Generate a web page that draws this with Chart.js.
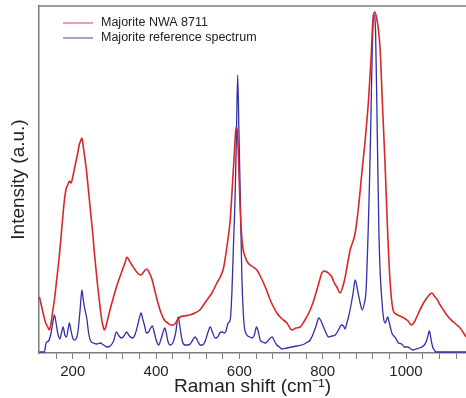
<!DOCTYPE html>
<html>
<head>
<meta charset="utf-8">
<script src="https://cdn.jsdelivr.net/npm/chart.js@4.4.1/dist/chart.umd.min.js"></script>
<style>
  html, body { margin: 0; padding: 0; background: #fff; }
  #wrap { width: 466px; height: 398px; }
</style>
</head>
<body>
<div id="wrap"><canvas id="chart"></canvas></div>
<script>
// Raman shift (cm-1) and intensity (a.u.)
const redShift = [
  120, 125, 130, 135, 140, 144, 148, 152, 156, 162, 168, 174, 180, 184, 188, 192, 196, 200, 204, 208,
  212, 216, 219, 222, 226, 232, 236, 240, 244, 248, 252, 256, 260, 264, 268, 272, 276, 280, 284, 290,
  296, 302, 308, 314, 320, 326, 330, 336, 342, 350, 358, 364, 372, 378, 384, 390, 396, 402, 408, 414,
  420, 428, 436, 442, 450, 458, 468, 481, 493, 505, 514, 522, 534, 546, 554, 562, 570, 578, 583, 588,
  592, 595, 598, 602, 607, 614, 621, 633, 642, 650, 658, 666, 674, 682, 690, 700, 714, 726, 736, 746,
  756, 770, 778, 786, 792, 798, 804, 810, 816, 822, 828, 834, 842, 848, 854, 860, 866, 878, 886, 894,
  902, 910, 916, 921, 925, 929, 933, 938, 943, 950, 956, 962, 969, 976, 985, 995, 1005, 1013, 1020, 1030,
  1042, 1050, 1056, 1062, 1068, 1074, 1082, 1090, 1098, 1106, 1114, 1122, 1130, 1138, 1144
];
const redIntensity = [
  56, 47, 38, 30, 26, 23, 30, 42, 53, 75, 98, 126, 153, 164, 168, 172, 170, 176, 184, 192,
  200, 209, 212, 215, 204, 186, 170, 153, 136, 120, 100, 83, 66, 52, 38, 28, 23, 27, 34, 44,
  53, 62, 70, 77, 84, 91, 96, 92, 88, 83, 79, 78, 82, 84, 80, 74, 64, 54, 45, 38,
  33, 30, 28, 28, 32, 36, 37, 38, 40, 43, 48, 53, 60, 70, 76, 85, 106, 133, 166, 200,
  226, 222, 193, 143, 110, 96, 90, 86, 83, 77, 70, 62, 53, 46, 40, 35, 30, 23, 25, 26,
  32, 43, 52, 63, 72, 80, 82, 81, 79, 76, 70, 66, 60, 66, 76, 90, 103, 120, 146, 180,
  213, 253, 293, 336, 341, 336, 326, 303, 253, 186, 120, 70, 43, 39, 37, 35, 32, 28, 31, 40,
  50, 55, 58, 60, 57, 54, 48, 43, 38, 34, 31, 28, 25, 20, 16
];

const blueShift = [
  120, 132, 136, 142, 148, 152, 156, 160, 164, 169, 173, 177, 181, 185, 189, 192, 196, 200, 204, 208,
  212, 217, 222, 225, 228, 231, 234, 238, 243, 250, 258, 266, 274, 282, 290, 298, 305, 311, 317, 323,
  329, 336, 344, 350, 356, 360, 364, 368, 372, 377, 382, 387, 391, 396, 401, 406, 412, 417, 421, 425,
  429, 434, 440, 447, 453, 458, 463, 469, 476, 482, 488, 494, 500, 506, 512, 518, 524, 530, 536, 542,
  548, 553, 558, 564, 568, 573, 578, 582, 586, 590, 593, 596, 599, 602, 606, 609, 612, 618, 625, 630,
  636, 641, 645, 650, 656, 662, 666, 672, 679, 684, 690, 696, 702, 714, 726, 738, 750, 760, 770, 778,
  784, 791, 796, 802, 808, 814, 822, 830, 838, 845, 850, 854, 858, 862, 868, 873, 878, 884, 890, 895,
  900, 904, 909, 912, 915, 919, 923, 927, 931, 935, 938, 942, 946, 950, 956, 960, 966, 975, 982, 990,
  996, 1004, 1012, 1017, 1024, 1032, 1038, 1044, 1048, 1052, 1056, 1060, 1064, 1068, 1072, 1144
];
const blueIntensity = [
  1, 1, 10, 12, 20, 30, 38, 30, 20, 14, 20, 26, 18, 16, 24, 30, 22, 15, 13, 14,
  20, 40, 63, 54, 46, 40, 34, 20, 12, 10, 9, 10, 8, 6, 7, 12, 21, 17, 15, 17,
  21, 17, 15, 19, 28, 35, 40, 34, 28, 20, 21, 25, 27, 20, 12, 8, 14, 21, 25, 19,
  11, 8, 10, 20, 36, 24, 12, 8, 8, 9, 13, 16, 12, 8, 8, 12, 20, 26, 20, 15,
  16, 20, 21, 20, 22, 30, 33, 60, 110, 160, 220, 278, 220, 160, 76, 43, 26, 18, 16, 15,
  18, 26, 22, 13, 11, 10, 11, 14, 16, 12, 8, 6, 4, 5, 6, 7, 8, 10, 13, 20,
  27, 35, 32, 26, 20, 16, 17, 18, 23, 28, 27, 24, 30, 36, 48, 60, 73, 62, 50, 43,
  50, 62, 120, 165, 220, 303, 338, 320, 220, 120, 80, 53, 35, 30, 36, 30, 20, 15, 10, 9,
  6, 6, 4, 3, 4, 5, 6, 8, 11, 16, 22, 14, 6, 3, 1, 1
];

const tickValues = [160, 200, 240, 280, 320, 360, 400, 440, 480, 520, 560, 600, 640, 680, 720, 760, 800, 840, 880, 920, 960, 1000, 1040, 1080, 1120];
const tickLabels = [200, 400, 600, 800, 1000];

const seriesNames = ["Majorite NWA 8711", "Majorite reference spectrum"];

const AXIS_COLOR = "#7c7c7c";
const FONT = "'Liberation Sans', Arial, sans-serif";

function toPoints(xs, ys) {
  return xs.map((x, i) => ({ x, y: ys[i] }));
}

// top edge of the frame + legend inside the plot
const framePlugin = {
  id: "frame",
  afterDraw(chart) {
    const { ctx, chartArea } = chart;
    ctx.save();
    ctx.strokeStyle = AXIS_COLOR;
    ctx.lineWidth = 1.5;
    ctx.beginPath();
    ctx.moveTo(chartArea.left, chartArea.top);
    ctx.lineTo(chartArea.right, chartArea.top);
    ctx.stroke();

    ctx.font = "12.5px " + FONT;
    ctx.textBaseline = "middle";
    chart.data.datasets.forEach((ds, i) => {
      const y = chartArea.top + 17 + i * 15;
      ctx.strokeStyle = ds.legendColor;
      ctx.lineWidth = 1.3;
      ctx.beginPath();
      ctx.moveTo(chartArea.left + 24, y);
      ctx.lineTo(chartArea.left + 54, y);
      ctx.stroke();
      ctx.fillStyle = "#222";
      ctx.fillText(ds.label, chartArea.left + 62, y);
    });
    ctx.restore();
  }
};

new Chart(document.getElementById("chart"), {
  type: "line",
  data: {
    datasets: [
      {
        label: seriesNames[0],
        data: toPoints(redShift, redIntensity),
        borderColor: "rgb(218, 38, 38)",
        legendColor: "rgb(214, 110, 110)",
        borderWidth: 1.6,
        pointRadius: 0,
        cubicInterpolationMode: "monotone"
      },
      {
        label: seriesNames[1],
        data: toPoints(blueShift, blueIntensity),
        borderColor: "rgb(48, 48, 168)",
        legendColor: "rgb(110, 110, 200)",
        borderWidth: 1.3,
        pointRadius: 0,
        cubicInterpolationMode: "monotone"
      }
    ]
  },
  options: {
    responsive: true,
    maintainAspectRatio: false,
    animation: false,
    layout: { padding: { top: 6, right: 0, left: 0, bottom: 0 } },
    plugins: {
      legend: { display: false },
      tooltip: { enabled: false }
    },
    scales: {
      x: {
        type: "linear",
        min: 119,
        max: 1144,
        afterBuildTicks: scale => {
          scale.ticks = tickValues.map(value => ({ value }));
        },
        afterFit: scale => {
          scale.height = 45;
        },
        ticks: {
          autoSkip: false,
          maxRotation: 0,
          padding: 4,
          color: "#222",
          font: { family: FONT, size: 15 },
          callback: value => (tickLabels.includes(value) ? String(value) : "")
        },
        grid: {
          display: true,
          drawOnChartArea: false,
          drawTicks: true,
          tickLength: 6,
          tickColor: AXIS_COLOR,
          tickWidth: 1
        },
        border: { display: true, color: AXIS_COLOR, width: 1.5 },
        title: {
          display: true,
          text: "Raman shift (cm⁻¹)",
          color: "#222",
          font: { family: FONT, size: 19 },
          padding: { top: 0, bottom: 0 }
        }
      },
      y: {
        min: 0,
        max: 347,
        afterFit: scale => {
          scale.width = 39;
        },
        ticks: { display: false },
        grid: { display: false },
        border: { display: true, color: AXIS_COLOR, width: 1.5 },
        title: {
          display: true,
          text: "Intensity (a.u.)",
          color: "#222",
          font: { family: FONT, size: 19 },
          padding: { top: 7, bottom: 0 }
        }
      }
    }
  },
  plugins: [framePlugin]
});
</script>
</body>
</html>
